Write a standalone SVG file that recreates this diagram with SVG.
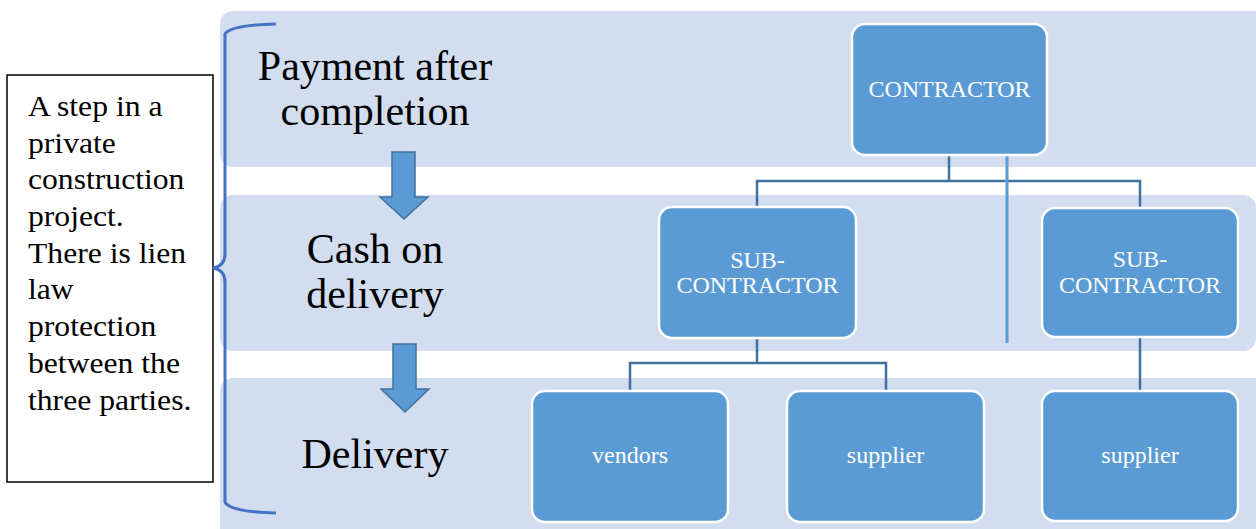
<svg xmlns="http://www.w3.org/2000/svg" width="1256" height="529" viewBox="0 0 1256 529">
  <defs>
    <style>
      .band { fill: #d2ddef; }
      .node rect { fill: #5b9bd5; stroke: #ffffff; stroke-width: 2.5; }
      .node text { fill: #ffffff; font-family: "Liberation Serif", "Times New Roman", serif; font-size: 24px; text-anchor: middle; }
      .phase { fill: #000000; font-family: "Liberation Serif", "Times New Roman", serif; font-size: 42px; text-anchor: middle; }
      .note { fill: #000000; font-family: "Liberation Serif", "Times New Roman", serif; font-size: 30px; }
      .link { fill: none; stroke: #41719c; stroke-width: 2.5; }
      .link-light { fill: none; stroke: #5b9bd5; stroke-width: 3; }
      .step-arrow { fill: #5b9bd5; stroke: #41719c; stroke-width: 1.5; stroke-linejoin: miter; }
    </style>
  </defs>

  <!-- phase bands -->
  <g id="bands">
    <rect class="band" x="220" y="11" width="1048" height="156" rx="13"/>
    <rect class="band" x="220" y="195" width="1036" height="156" rx="13"/>
    <rect class="band" x="220" y="378" width="1048" height="170" rx="13"/>
  </g>

  <!-- explanatory note -->
  <g id="note">
    <rect x="7" y="75" width="206" height="407" fill="#ffffff" stroke="#000000" stroke-width="1.5"/>
    <g transform="translate(28,0) scale(1.055,1) translate(-28,0)">
      <text class="note" x="28" y="116">A step in a</text>
      <text class="note" x="28" y="152.7">private</text>
      <text class="note" x="28" y="189.4">construction</text>
      <text class="note" x="28" y="226.1">project.</text>
      <text class="note" x="28" y="262.8">There is lien</text>
      <text class="note" x="28" y="299.5">law</text>
      <text class="note" x="28" y="336.2">protection</text>
      <text class="note" x="28" y="372.9">between the</text>
      <text class="note" x="28" y="409.6">three parties.</text>
    </g>
  </g>

  <!-- brace -->
  <g id="brace">
    <path d="M276,24 Q230,25 225,34 L225,254 Q225,266 213,268 Q225,270 225,282 L225,502 Q230,512 276,513" fill="none" stroke="#4472c4" stroke-width="3"/>
  </g>

  <!-- phase labels -->
  <g id="phase-payment">
    <text class="phase" x="375" y="80">Payment after</text>
    <text class="phase" x="375" y="125">completion</text>
  </g>
  <g id="phase-cod">
    <text class="phase" x="375" y="263">Cash on</text>
    <text class="phase" x="375" y="308">delivery</text>
  </g>
  <g id="phase-delivery">
    <text class="phase" x="375" y="468">Delivery</text>
  </g>

  <!-- step arrows -->
  <g id="step-arrows">
    <path class="step-arrow" d="M392,152 L415,152 L415,197 L428,197 L404,219 L380,197 L392,197 Z"/>
    <path class="step-arrow" d="M393,344 L416,344 L416,389 L429,389 L405,412 L381,389 L393,389 Z"/>
  </g>

  <!-- connectors -->
  <g id="connectors">
    <path class="link" d="M949,155 L949,181 M757,207 L757,181 L1140,181 L1140,208"/>
    <path class="link-light" d="M1007,155 L1007,343"/>
    <path class="link" d="M757,338 L757,363 M630,391 L630,363 L886,363 L886,391"/>
    <path class="link" d="M1140,337 L1140,391"/>
  </g>

  <!-- nodes -->
  <g id="contractor" class="node">
    <rect x="852" y="24" width="195" height="131" rx="13"/>
    <text x="949.5" y="97">CONTRACTOR</text>
  </g>
  <g id="subcontractor-left" class="node">
    <rect x="659" y="207" width="197" height="131" rx="13"/>
    <text x="757.5" y="268">SUB-</text>
    <text x="757.5" y="293">CONTRACTOR</text>
  </g>
  <g id="subcontractor-right" class="node">
    <rect x="1042" y="208" width="196" height="129" rx="13"/>
    <text x="1140" y="267">SUB-</text>
    <text x="1140" y="293">CONTRACTOR</text>
  </g>
  <g id="vendors" class="node">
    <rect x="532" y="391" width="196" height="131" rx="13"/>
    <text x="630" y="463">vendors</text>
  </g>
  <g id="supplier-left" class="node">
    <rect x="787" y="391" width="197" height="131" rx="13"/>
    <text x="885.5" y="463">supplier</text>
  </g>
  <g id="supplier-right" class="node">
    <rect x="1042" y="391" width="196" height="130" rx="13"/>
    <text x="1140" y="463">supplier</text>
  </g>
</svg>
